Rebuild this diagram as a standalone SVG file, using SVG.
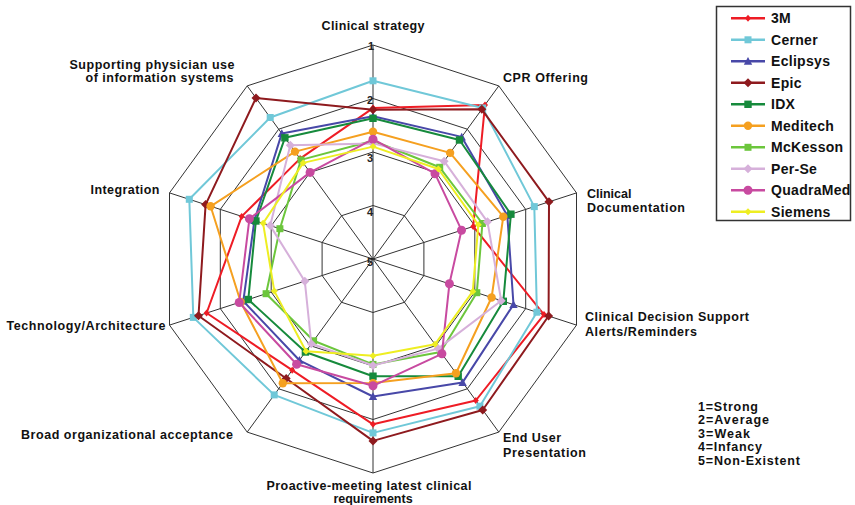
<svg xmlns="http://www.w3.org/2000/svg" width="855" height="505" viewBox="0 0 855 505">
<style>
text{font-family:"Liberation Sans",Arial,sans-serif;font-weight:bold;fill:#111;}
.lbl{font-size:12.5px;}
.key{font-size:12.5px;}
.leg{font-size:14px;letter-spacing:0.3px;}
.tick{font-size:11px;fill:#222;text-anchor:middle;}
.grid{fill:none;stroke:#333;stroke-width:1;}
.s{fill:none;stroke-width:2;stroke-linejoin:round;}
.s3m{stroke:#ee1c25;marker-start:url(#m3m);marker-mid:url(#m3m);}
.scer{stroke:#70c8d8;marker-start:url(#mcer);marker-mid:url(#mcer);}
.secl{stroke:#4848a8;marker-start:url(#mecl);marker-mid:url(#mecl);}
.sepi{stroke:#8e1a1e;marker-start:url(#mepi);marker-mid:url(#mepi);}
.sidx{stroke:#168a3c;marker-start:url(#midx);marker-mid:url(#midx);}
.smed{stroke:#f5a020;marker-start:url(#mmed);marker-mid:url(#mmed);}
.smck{stroke:#6cc63c;marker-start:url(#mmck);marker-mid:url(#mmck);}
.sper{stroke:#d6b0da;marker-start:url(#mper);marker-mid:url(#mper);}
.squa{stroke:#c84aa0;marker-start:url(#mqua);marker-mid:url(#mqua);}
.ssie{stroke:#eeee22;marker-start:url(#msie);marker-mid:url(#msie);}
.legline{stroke-width:2.5;}
</style>
<defs>
<marker id="m3m" markerUnits="userSpaceOnUse" markerWidth="10" markerHeight="10" refX="5" refY="5" overflow="visible"><path d="M5 1.5 L8 5 L5 8.5 L2 5 Z" fill="#ee1c25"/></marker>
<marker id="mcer" markerUnits="userSpaceOnUse" markerWidth="10" markerHeight="10" refX="5" refY="5" overflow="visible"><rect x="1.5" y="1.5" width="7" height="7" fill="#70c8d8"/></marker>
<marker id="mecl" markerUnits="userSpaceOnUse" markerWidth="10" markerHeight="10" refX="5" refY="5" overflow="visible"><path d="M5 0.8 L9.2 8.5 L0.8 8.5 Z" fill="#4848a8"/></marker>
<marker id="mepi" markerUnits="userSpaceOnUse" markerWidth="10" markerHeight="10" refX="5" refY="5" overflow="visible"><path d="M5 0.5 L9.5 5 L5 9.5 L0.5 5 Z" fill="#8e1a1e"/></marker>
<marker id="midx" markerUnits="userSpaceOnUse" markerWidth="10" markerHeight="10" refX="5" refY="5" overflow="visible"><rect x="1.3" y="1.3" width="7.4" height="7.4" fill="#168a3c"/></marker>
<marker id="mmed" markerUnits="userSpaceOnUse" markerWidth="10" markerHeight="10" refX="5" refY="5" overflow="visible"><circle cx="5" cy="5" r="4.2" fill="#f5a020"/></marker>
<marker id="mmck" markerUnits="userSpaceOnUse" markerWidth="10" markerHeight="10" refX="5" refY="5" overflow="visible"><rect x="1.5" y="1.5" width="7" height="7" fill="#6cc63c"/></marker>
<marker id="mper" markerUnits="userSpaceOnUse" markerWidth="10" markerHeight="10" refX="5" refY="5" overflow="visible"><path d="M5 0.5 L9.5 5 L5 9.5 L0.5 5 Z" fill="#d6b0da"/></marker>
<marker id="mqua" markerUnits="userSpaceOnUse" markerWidth="10" markerHeight="10" refX="5" refY="5" overflow="visible"><circle cx="5" cy="5" r="4.5" fill="#c84aa0"/></marker>
<marker id="msie" markerUnits="userSpaceOnUse" markerWidth="10" markerHeight="10" refX="5" refY="5" overflow="visible"><path d="M5 1.5 L8.5 5 L5 8.5 L1.5 5 Z" fill="#eeee22"/></marker>
</defs>
<rect width="855" height="505" fill="#fff"/>
<g id="grid">
<polygon class="grid" points="373,45 498.8,85.9 576.5,192.9 576.5,325.1 498.8,432.1 373,473 247.2,432.1 169.5,325.1 169.5,192.9 247.2,85.9"/>
<polygon class="grid" points="373,98.5 467.3,129.2 525.7,209.4 525.7,308.6 467.3,388.8 373,419.5 278.7,388.8 220.3,308.6 220.3,209.4 278.7,129.2"/>
<polygon class="grid" points="373,152 435.9,172.4 474.8,225.9 474.8,292.1 435.9,345.6 373,366 310.1,345.6 271.2,292.1 271.2,225.9 310.1,172.4"/>
<polygon class="grid" points="373,205.5 404.4,215.7 423.9,242.5 423.9,275.5 404.4,302.3 373,312.5 341.6,302.3 322.1,275.5 322.1,242.5 341.6,215.7"/>
<path class="grid" d="M373 259 L373 45 M373 259 L498.8 85.9 M373 259 L576.5 192.9 M373 259 L576.5 325.1 M373 259 L498.8 432.1 M373 259 L373 473 M373 259 L247.2 432.1 M373 259 L169.5 325.1 M373 259 L169.5 192.9 M373 259 L247.2 85.9"/>
<text class="tick" x="371" y="50">1</text>
<text class="tick" x="370" y="104">2</text>
<text class="tick" x="370" y="162">3</text>
<text class="tick" x="370" y="216">4</text>
<text class="tick" x="370" y="266">5</text>
</g>
<g id="connectors">
<polygon id="s-3m" class="s s3m" points="373,108.1 485,104.9 473.2,226.4 544,314.6 475.8,400.5 373,424.3 292.2,370.2 206.6,313 241.7,216.4 300.1,158.6"/>
<polygon id="s-cerner" class="s scer" points="373,80.8 482.7,108 534.3,206.6 536.9,312.2 479.9,406.2 373,432.9 274.2,394.9 193.3,317.4 189.3,199.3 270.2,117.5"/>
<polygon id="s-eclipsys" class="s secl" points="373,116.2 461.7,136.9 507.3,215.4 513.5,304.6 462.6,382.4 373,396.5 299.4,360.3 243.3,301.1 254.4,220.5 281.8,133.4"/>
<polygon id="s-epic" class="s sepi" points="373,109.7 481.8,109.3 549,201.8 548.6,316 482.7,410 373,440.9 286.2,378.5 198.5,315.7 205.6,204.6 256,98"/>
<polygon id="s-idx" class="s sidx" points="373,118.3 459.5,140 510.9,214.2 503.3,301.3 458.2,376.3 373,376.2 305.4,352 248.3,299.5 255.9,221 284.9,137.8"/>
<polygon id="s-meditech" class="s smed" points="373,131.7 450.1,152.9 503.3,216.7 491.6,297.5 456,373.2 373,383.1 282.8,383.2 240.7,302 210.6,206.3 295,151.6"/>
<polygon id="s-mckesson" class="s smck" points="373,140.8 439.7,167.3 482.4,223.5 476.8,292.7 440.6,352 373,364.4 313.6,340.8 266.1,293.7 279.9,228.7 301,159.9"/>
<polygon id="s-perse" class="s sper" points="373,143.4 444.1,161.2 487.5,221.8 501.2,300.7 438.1,348.6 373,365.5 311.3,343.8 304.8,281.2 270.2,225.6 290.3,145.2"/>
<polygon id="s-quadramed" class="s squa" points="373,139.2 435,173.7 461.5,230.2 449.4,283.8 441.9,353.8 373,385.8 296.6,364.2 239.2,302.5 249.4,218.8 310.1,172.4"/>
<polygon id="s-siemens" class="s ssie" points="373,146.6 438.4,169 478.3,224.8 472.8,291.4 435,344.3 373,355.8 306,351.2 274.3,291.1 263.1,223.3 303.2,162.9"/>
</g>
<g id="axis-labels">
<text class="lbl" x="373" y="30" text-anchor="middle" textLength="103" lengthAdjust="spacing">Clinical strategy</text>
<text class="lbl" x="503" y="81.5" textLength="85" lengthAdjust="spacing">CPR Offering</text>
<text class="lbl" x="587" y="198">Clinical</text>
<text class="lbl" x="587" y="211.5" textLength="98" lengthAdjust="spacing">Documentation</text>
<text class="lbl" x="585" y="321" textLength="164" lengthAdjust="spacing">Clinical Decision Support</text>
<text class="lbl" x="585" y="336" textLength="112" lengthAdjust="spacing">Alerts/Reminders</text>
<text class="lbl" x="503" y="441.5" textLength="58" lengthAdjust="spacing">End User</text>
<text class="lbl" x="503" y="456.5" textLength="83" lengthAdjust="spacing">Presentation</text>
<text class="lbl" x="369" y="489.5" text-anchor="middle" textLength="205" lengthAdjust="spacing">Proactive-meeting latest clinical</text>
<text class="lbl" x="373" y="503" text-anchor="middle">requirements</text>
<text class="lbl" x="233" y="439" text-anchor="end" textLength="212" lengthAdjust="spacing">Broad organizational acceptance</text>
<text class="lbl" x="165.5" y="330" text-anchor="end" textLength="159" lengthAdjust="spacing">Technology/Architecture</text>
<text class="lbl" x="159.5" y="194" text-anchor="end" textLength="69" lengthAdjust="spacing">Integration</text>
<text class="lbl" x="234.5" y="68.5" text-anchor="end" textLength="165" lengthAdjust="spacing">Supporting physician use</text>
<text class="lbl" x="233.5" y="81.5" text-anchor="end" textLength="148" lengthAdjust="spacing">of information systems</text>
</g>
<g id="legend">
<rect x="716.5" y="6.5" width="134" height="214" fill="#fff" stroke="#333" stroke-width="1.5"/>
<g id="leg-3m"><path class="legline s3m" d="M731 18.3 L748 18.3 L765 18.3" style="marker-start:none"/><text class="leg" x="771" y="23.3">3M</text></g>
<g id="leg-cerner"><path class="legline scer" d="M731 39.8 L748 39.8 L765 39.8" style="marker-start:none"/><text class="leg" x="771" y="44.8">Cerner</text></g>
<g id="leg-eclipsys"><path class="legline secl" d="M731 61.3 L748 61.3 L765 61.3" style="marker-start:none"/><text class="leg" x="771" y="66.3">Eclipsys</text></g>
<g id="leg-epic"><path class="legline sepi" d="M731 82.8 L748 82.8 L765 82.8" style="marker-start:none"/><text class="leg" x="771" y="87.8">Epic</text></g>
<g id="leg-idx"><path class="legline sidx" d="M731 104.3 L748 104.3 L765 104.3" style="marker-start:none"/><text class="leg" x="771" y="109.3">IDX</text></g>
<g id="leg-meditech"><path class="legline smed" d="M731 125.8 L748 125.8 L765 125.8" style="marker-start:none"/><text class="leg" x="771" y="130.8">Meditech</text></g>
<g id="leg-mckesson"><path class="legline smck" d="M731 147.3 L748 147.3 L765 147.3" style="marker-start:none"/><text class="leg" x="771" y="152.3">McKesson</text></g>
<g id="leg-perse"><path class="legline sper" d="M731 168.8 L748 168.8 L765 168.8" style="marker-start:none"/><text class="leg" x="771" y="173.8">Per-Se</text></g>
<g id="leg-quadramed"><path class="legline squa" d="M731 190.3 L748 190.3 L765 190.3" style="marker-start:none"/><text class="leg" x="771" y="195.3">QuadraMed</text></g>
<g id="leg-siemens"><path class="legline ssie" d="M731 211.8 L748 211.8 L765 211.8" style="marker-start:none"/><text class="leg" x="771" y="216.8">Siemens</text></g>
</g>
<g id="scale-key">
<text class="key" x="698" y="410.5" textLength="60" lengthAdjust="spacing">1=Strong</text>
<text class="key" x="698" y="424" textLength="71" lengthAdjust="spacing">2=Average</text>
<text class="key" x="698" y="437.5" textLength="52" lengthAdjust="spacing">3=Weak</text>
<text class="key" x="698" y="451" textLength="64" lengthAdjust="spacing">4=Infancy</text>
<text class="key" x="698" y="464.5" textLength="102" lengthAdjust="spacing">5=Non-Existent</text>
</g>
</svg>
